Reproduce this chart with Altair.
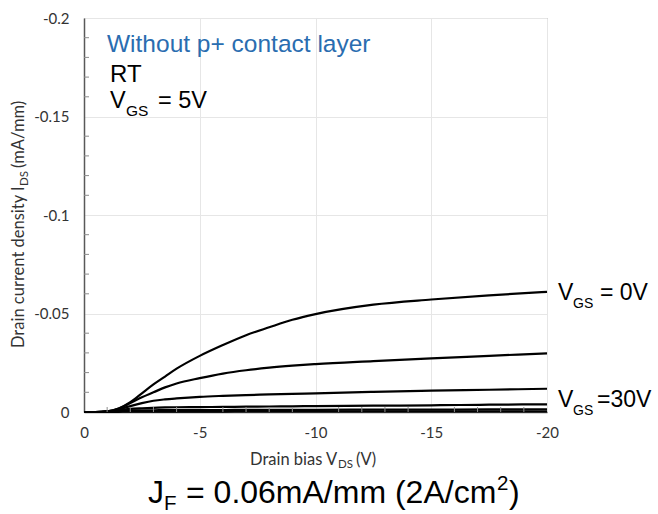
import altair as alt
import pandas as pd

# Drain bias sweep (V) shared by every output curve
vds = [0, -0.5, -1, -1.5, -2, -2.5, -3, -3.5, -4, -5, -6, -7, -8, -9, -10, -12.5, -15, -17.5, -20]

# Drain current density (mA/mm), top curve (VGS = 0 V) down to VGS = 30 V
ids_1 = [0, 0, -0.0003, -0.0018, -0.005, -0.0095, -0.014, -0.018, -0.022, -0.0285, -0.034,
         -0.039, -0.043, -0.0468, -0.0497, -0.0545, -0.0571, -0.0592, -0.061]
ids_2 = [0, 0, -0.0003, -0.0017, -0.0045, -0.0075, -0.0100, -0.0125, -0.0145, -0.0172, -0.0195,
         -0.0212, -0.0225, -0.0235, -0.0243, -0.0258, -0.0272, -0.0285, -0.0298]
ids_3 = [0, 0, -0.0003, -0.0014, -0.003, -0.0045, -0.0057, -0.0064, -0.0069, -0.0077, -0.0082,
         -0.0086, -0.0089, -0.0092, -0.0095, -0.0102, -0.0108, -0.0113, -0.0118]
ids_4 = [0, 0, -0.0002, -0.0009, -0.0016, -0.0019, -0.0021, -0.0023, -0.0024, -0.0025, -0.0026,
         -0.0027, -0.0028, -0.0029, -0.003, -0.0032, -0.0034, -0.0037, -0.0039]
ids_5 = [0, 0, -0.0001, -0.0005, -0.0008, -0.0009, -0.0009, -0.001, -0.001, -0.001, -0.001,
         -0.0011, -0.0011, -0.0011, -0.0011, -0.0012, -0.0012, -0.0013, -0.0014]
ids_6 = [0, 0, 0, -0.0001, -0.0002, -0.0002, -0.0002, -0.0002, -0.0002, -0.0002, -0.0002,
         -0.0003, -0.0003, -0.0003, -0.0003, -0.0003, -0.0003, -0.0003, -0.0003]

curves = {"c1": ids_1, "c2": ids_2, "c3": ids_3, "c4": ids_4, "c5": ids_5, "c6": ids_6}

x_ticks = [0, -5, -10, -15, -20]
y_ticks = [0, -0.05, -0.1, -0.15, -0.2]
x_minor = [-1, -2, -3, -4, -6, -7, -8, -9, -11, -12, -13, -14, -16, -17, -18, -19]
y_minor = [-0.01, -0.02, -0.03, -0.04, -0.06, -0.07, -0.08, -0.09, -0.11, -0.12, -0.13,
           -0.14, -0.16, -0.17, -0.18, -0.19]

rows = [{"vds": v, "ids": i, "curve": k} for k, vals in curves.items() for v, i in zip(vds, vals)]
df = pd.DataFrame(rows)

W, H = 463, 394
ARIAL = "Liberation Sans"
AXF = "Lato"
GREY_TXT = "#333333"
MINUS = "\u2212"
fmt_expr = f"replace(format(datum.value, '~g'), '{MINUS}', '-')"

xscale = alt.Scale(domain=[0, -20], nice=False, zero=False)
yscale = alt.Scale(domain=[0, -0.2], nice=False, zero=False)

axis_common = dict(
    title=None, grid=True, gridColor="#e6e6e6", gridWidth=1, ticks=False, tickSize=0,
    domainColor="#595959", domainWidth=1.5, labelFont=AXF, labelFontSize=15,
    labelColor=GREY_TXT, labelExpr=fmt_expr, labelFlush=False,
)
x_axis = alt.Axis(values=x_ticks, labelPadding=13, **axis_common)
y_axis = alt.Axis(values=y_ticks, labelPadding=15, **axis_common)


def X(field="vds"):
    return alt.X(f"{field}:Q", scale=xscale, axis=x_axis)


def Y(field="ids"):
    return alt.Y(f"{field}:Q", scale=yscale, axis=y_axis)


lines = alt.Chart(df).mark_line(color="black", strokeWidth=2.2, interpolate="monotone").encode(
    x=X(), y=Y(),
    detail="curve:N",
    order=alt.Order("vds:Q", sort="descending"),
)

# short inward minor ticks along the left and bottom axes
ytk = alt.Chart(pd.DataFrame({"ids": y_minor})).mark_rule(color="#8c8c8c", strokeWidth=1).encode(
    y=Y(), x=alt.value(0), x2=alt.value(5)
)
xtk = alt.Chart(pd.DataFrame({"vds": x_minor})).mark_rule(color="#8c8c8c", strokeWidth=1).encode(
    x=X(), y=alt.value(H), y2=alt.value(H - 5)
)

one = pd.DataFrame({"k": [0]})


def txt(s, x, y, size, color="black", font=ARIAL, angle=0):
    return alt.Chart(one).mark_text(
        text=s, font=font, fontSize=size, color=color, align="left",
        baseline="alphabetic", angle=angle,
    ).encode(x=alt.value(x), y=alt.value(y))


# curve-end labels anchored to the last point of a curve
def end_label(vals, pieces):
    src = pd.DataFrame({"vds": [vds[-1]], "ids": [vals[-1]]})
    out = []
    for s, size, dx, dy in pieces:
        out.append(alt.Chart(src).mark_text(
            text=s, font=ARIAL, fontSize=size, color="black", align="left",
            baseline="alphabetic", dx=dx, dy=dy,
        ).encode(x=X(), y=Y()))
    return out


lab0 = end_label(ids_1, [("V", 23, 11, 8), ("GS", 14, 26, 16), ("= 0V", 23, 53, 8)])
lab30 = end_label(ids_4, [("V", 23, 11, 3), ("GS", 14, 26, 11), ("=30V", 23, 50, 3)])

# annotations inside the plot
notes = [
    txt("Without p+ contact layer", 23, 34, 24.5, color="#2a6db0"),
    txt("RT", 26, 64, 24),
    txt("V", 26, 90, 23.5),
    txt("GS", 42, 98, 15.5),
    txt("= 5V", 74, 90, 23.5),
]

# axis titles with subscripts
ytitle = [
    txt("Drain current density I", -60, 330, 16.5, color=GREY_TXT, font=AXF, angle=270),
    txt("DS", -56, 168, 11.5, color=GREY_TXT, font=AXF, angle=270),
    txt("(mA/mm)", -60, 150, 16.5, color=GREY_TXT, font=AXF, angle=270),
]
xtitle = [
    txt("Drain bias V", 166, 447, 16.5, color=GREY_TXT, font=AXF),
    txt("DS", 254, 450, 11.5, color=GREY_TXT, font=AXF),
    txt("(V)", 272, 447, 16.5, color=GREY_TXT, font=AXF),
]

# condition caption under the chart
caption = [
    txt("J", 64, 485, 32),
    txt("F", 80, 492, 20.5),
    txt("= 0.06mA/mm (2A/cm", 102, 485, 32),
    txt("2", 413, 472, 20.5),
    txt(")", 425, 485, 32),
]

chart = alt.layer(
    lines, ytk, xtk, *lab0, *lab30, *notes, *ytitle, *xtitle, *caption
).properties(
    width=W, height=H,
    autosize=alt.AutoSizeParams(type="none"),
    padding={"left": 84, "top": 18, "right": 111, "bottom": 102},
    background="white",
).configure_view(stroke="#8c8c8c", strokeWidth=1)

chart.save("out.html", embed_options={"renderer": "svg", "actions": False})
